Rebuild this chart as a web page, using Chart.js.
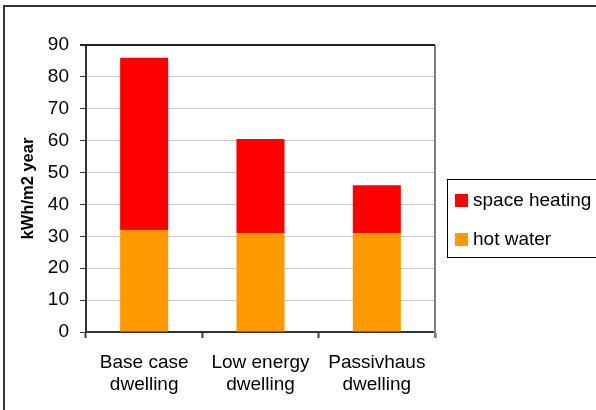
<!DOCTYPE html>
<html>
<head>
<meta charset="utf-8">
<script src="https://cdn.jsdelivr.net/npm/chart.js@4/dist/chart.umd.min.js"></script>
<style>
  html, body { margin: 0; padding: 0; background: #fff; }
  #chart { display: block; }
</style>
</head>
<body>
<canvas id="chart" width="596" height="410"></canvas>
<script>
const categories = [["Base case", "dwelling"], ["Low energy", "dwelling"], ["Passivhaus", "dwelling"]];
const hotWater = [32, 31, 31];
const spaceHeating = [54, 29.5, 15];
const yTicks = [0, 10, 20, 30, 40, 50, 60, 70, 80, 90];

const FONT = "'Liberation Sans', Arial, sans-serif";

// outer frame, top/right edges of the plot and the boxed legend
const framePlugin = {
  id: 'frame',
  beforeDraw(chart) {
    const ctx = chart.ctx;
    ctx.save();
    ctx.fillStyle = '#fff';
    ctx.fillRect(0, 0, chart.width, chart.height);
    ctx.strokeStyle = '#333';
    ctx.lineWidth = 2;
    ctx.strokeRect(4, 6, 800, 800);
    ctx.restore();
  },
  afterDraw(chart) {
    const ctx = chart.ctx;
    const a = chart.chartArea;
    ctx.save();
    ctx.lineWidth = 2;
    ctx.strokeStyle = '#808080';
    ctx.beginPath();
    ctx.moveTo(a.right, a.top);
    ctx.lineTo(a.right, a.bottom + 6);
    ctx.stroke();
    ctx.strokeStyle = '#222';
    ctx.beginPath();
    ctx.moveTo(a.left - 6, a.top);
    ctx.lineTo(a.right, a.top);
    ctx.stroke();

    // legend
    ctx.lineWidth = 1;
    ctx.strokeStyle = '#000';
    ctx.strokeRect(447.5, 179.5, 200, 78);
    ctx.font = '19px ' + FONT;
    ctx.textBaseline = 'middle';
    ctx.fillStyle = '#000';
    const items = chart.data.datasets.slice().reverse();
    items.forEach((ds, i) => {
      const y = 200 + i * 39;
      ctx.fillStyle = ds.backgroundColor;
      ctx.fillRect(455, y - 6, 13, 13);
      ctx.fillStyle = '#000';
      ctx.fillText(ds.label, 473, y + 1);
    });
    ctx.restore();
  }
};

new Chart(document.getElementById('chart'), {
  type: 'bar',
  data: {
    labels: categories,
    datasets: [
      { label: 'hot water', data: hotWater, backgroundColor: '#FF9900' },
      { label: 'space heating', data: spaceHeating, backgroundColor: '#FF0000' }
    ]
  },
  options: {
    responsive: false,
    animation: false,
    layout: { padding: { top: 45, right: 161, left: 0, bottom: 0 } },
    datasets: { bar: { categoryPercentage: 1, barPercentage: 0.413 } },
    plugins: {
      legend: { display: false },
      tooltip: { enabled: false }
    },
    scales: {
      x: {
        stacked: true,
        grid: { display: true, drawOnChartArea: false, offset: true, tickLength: 6, tickColor: '#404040', tickWidth: 2 },
        border: { display: true, color: '#333', width: 2 },
        ticks: { color: '#000', font: { family: FONT, size: 19, lineHeight: 1.2 }, padding: 13, maxRotation: 0 },
        afterFit(scale) { scale.height = 78; }
      },
      y: {
        stacked: true,
        min: 0,
        max: 90,
        afterBuildTicks(scale) { scale.ticks = yTicks.map(v => ({ value: v })); },
        grid: { color: '#c8c8c8', tickLength: 6, tickColor: '#404040', lineWidth: 1 },
        border: { display: true, color: '#333', width: 2 },
        ticks: { color: '#000', font: { family: FONT, size: 19 }, padding: 11 },
        title: { display: true, text: 'kWh/m2 year', color: '#000', font: { family: FONT, size: 16.5, weight: 'bold' }, padding: { top: 19, bottom: 0 } },
        afterFit(scale) { scale.width = 86; }
      }
    }
  },
  plugins: [framePlugin]
});
</script>
</body>
</html>
